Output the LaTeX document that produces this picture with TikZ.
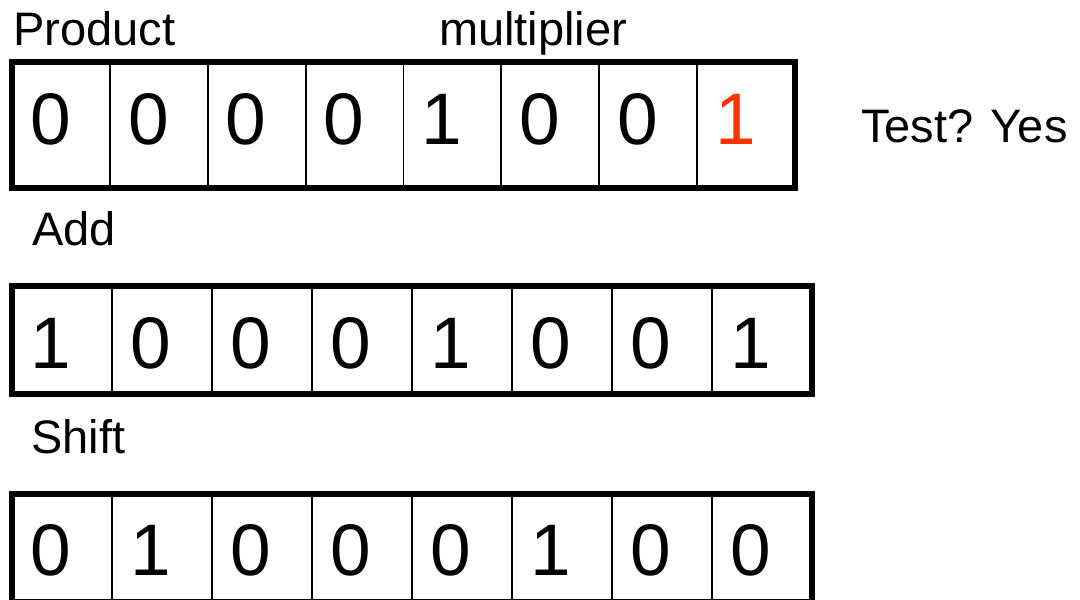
\documentclass[tikz,border=0pt]{standalone}
\usepackage{fontspec}
\setmainfont{Liberation Sans}
\definecolor{bitred}{HTML}{FF3300}
\begin{document}
\begin{tikzpicture}[x=1pt,y=-1pt,
  cell/.style={draw, line width=1.8pt, inner sep=0pt, outer sep=0pt, anchor=north west},
  frame/.style={draw, line width=6pt, line join=miter},
  digit/.style={inner sep=0pt, anchor=base west, font=\fontsize{73}{80}\selectfont},
  lbl/.style={inner sep=0pt, anchor=base west, font=\fontsize{47}{52}\selectfont}]
\useasboundingbox (0,0) rectangle (1080,600);
% register 1
\foreach \v/\c [count=\i] in {0/black,0/black,0/black,0/black,1/black,0/black,0/black,1/bitred}{
  \node[cell, minimum width=97.875pt, minimum height=126pt] (a\i) at ({12+97.875*(\i-1)},62) {};
  \node[digit, text=\c] (da\i) at ({30+97.875*(\i-1)},144) {\v};
}
\draw[frame] (a1.north west) rectangle (a8.south east);
% register 2
\foreach \v [count=\i] in {1,0,0,0,1,0,0,1}{
  \node[cell, minimum width=100pt, minimum height=108pt] (b\i) at ({12+100*(\i-1)},286) {};
  \node[digit] (db\i) at ({30+100*(\i-1)},368) {\v};
}
\draw[frame] (b1.north west) rectangle (b8.south east);
% register 3
\foreach \v [count=\i] in {0,1,0,0,0,1,0,0}{
  \node[cell, minimum width=100pt, minimum height=108pt] (c\i) at ({12+100*(\i-1)},494) {};
  \node[digit] (dc\i) at ({30+100*(\i-1)},575) {\v};
}
\draw[frame] (c1.north west) rectangle (c8.south east);
% labels
\node[lbl] (product) at (13,45) {Product};
\node[lbl] (mult) at (439,45) {multiplier};
\node[lbl] (test) at (861,142) {Test? Yes};
\node[lbl] (add) at (32,245) {Add};
\node[lbl] (shift) at (31,453) {Shift};
\end{tikzpicture}
\end{document}
